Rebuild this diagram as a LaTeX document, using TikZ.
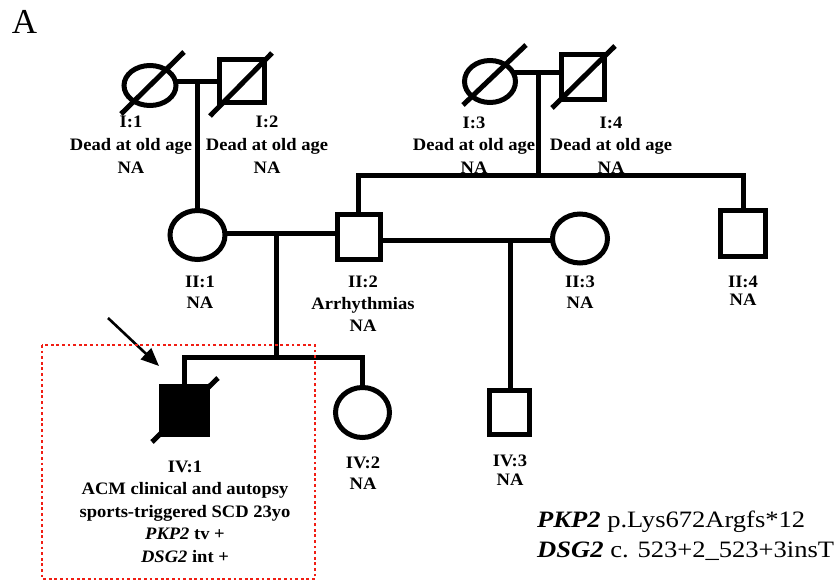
\documentclass[tikz,border=0pt]{standalone}
\usepackage{fontspec}
\setmainfont{Liberation Serif}
\usetikzlibrary{shapes.geometric,arrows.meta}
\pgfdeclarelayer{background}
\pgfsetlayers{background,main}
\tikzset{
  lw/.style={line width=5pt},
  female/.style={ellipse, draw, lw, fill=white, inner sep=0pt},
  male/.style={rectangle, draw, lw, fill=white, inner sep=0pt},
  conn/.style={lw, line join=miter},
  dead/.style={lw},
  lbl/.style={font=\bfseries\fontsize{17.5}{21}\selectfont, anchor=base, inner sep=0pt, xscale=1.06},
  var/.style={font=\fontsize{23.5}{28}\selectfont, anchor=base west, inner sep=0pt, xscale=1.13},
  redbox/.style={draw={rgb,255:red,240;green,30;blue,20}, line width=2.8pt, dash pattern=on 2.8pt off 2.8pt},
}
\begin{document}
\begin{tikzpicture}[x=1pt,y=-1pt]
\useasboundingbox (0,0) rectangle (838,583);

% panel letter
\node[font=\fontsize{35}{40}\selectfont, anchor=base, inner sep=0pt] (panelA) at (24.5,34) {A};

% individuals
\node[female, minimum width=52pt, minimum height=40pt] (I1) at (150,85.5) {};
\node[male, minimum width=45pt, minimum height=43pt] (I2) at (242,81) {};
\node[female, minimum width=51pt, minimum height=42pt] (I3) at (490,81.5) {};
\node[male, minimum width=43pt, minimum height=45pt] (I4) at (583,77) {};
\node[female, minimum width=55pt, minimum height=49pt] (II1) at (197.5,235) {};
\node[male, minimum width=43pt, minimum height=45pt] (II2) at (358.5,237) {};
\node[female, minimum width=55pt, minimum height=49pt] (II3) at (580,238.5) {};
\node[male, minimum width=45pt, minimum height=46pt] (II4) at (743,233.5) {};
\node[male, fill=black, minimum width=46pt, minimum height=48pt] (IV1) at (184.5,410.5) {};
\node[female, minimum width=54pt, minimum height=50pt] (IV2) at (362.5,412.5) {};
\node[male, minimum width=40pt, minimum height=44pt] (IV3) at (509.5,412.5) {};

% deceased slashes
\coordinate (d1a) at (121,114); \coordinate (d1b) at (184,52);
\coordinate (d2a) at (210,116); \coordinate (d2b) at (272,53);
\coordinate (d3a) at (463,105); \coordinate (d3b) at (526,45);
\coordinate (d4a) at (552,108); \coordinate (d4b) at (615,46);
\coordinate (d5a) at (152,442); \coordinate (d5b) at (218,378);
\draw[dead] (d1a) -- (d1b);
\draw[dead] (d2a) -- (d2b);
\draw[dead] (d3a) -- (d3b);
\draw[dead] (d4a) -- (d4b);
\draw[dead] (d5a) -- (d5b);

% connectors
\coordinate (m1) at (197.5,82);
\coordinate (m2) at (538,73);
\coordinate (s2) at (538,175);
\coordinate (m3) at (276,233);
\coordinate (s3) at (276,357);
\coordinate (m4) at (510,240);
\begin{pgfonlayer}{background}
\draw[conn] (I1.center |- m1) -- (I2.center |- m1);
\draw[conn] (m1) -- (m1 |- II1.north);
\draw[conn] (I3.center |- m2) -- (I4.center |- m2);
\draw[conn] (m2) -- (s2);
\draw[conn] (II2.north) -- (II2.north |- s2) -- (II4.north |- s2) -- (II4.north);
\draw[conn] (II1.center |- m3) -- (II2.center |- m3);
\draw[conn] (m3) -- (s3);
\draw[conn] (IV1.north) -- (IV1.north |- s3) -- (IV2.north |- s3) -- (IV2.north);
\draw[conn] (II2.center |- m4) -- (II3.center |- m4);
\draw[conn] (m4) -- (m4 |- IV3.north);
\end{pgfonlayer}

% proband arrow
\coordinate (atail) at (108,318);
\coordinate (atip) at (159,366);
\draw[line width=2.6pt, -{Triangle[length=18pt,width=15pt]}] (atail) -- (atip);

% red dotted frame
\draw[redbox] (42,345) rectangle (315,579);

% labels generation I
\node[lbl] (t11) at (131,128) {I:1};
\node[lbl] (t12) at (131,151) {Dead at old age};
\node[lbl] (t13) at (131,174) {NA};
\node[lbl] (t21) at (267,128) {I:2};
\node[lbl] (t22) at (267,151) {Dead at old age};
\node[lbl] (t23) at (267,174) {NA};
\node[lbl] (t31) at (474,128.5) {I:3};
\node[lbl] (t32) at (474,151) {Dead at old age};
\node[lbl] (t33) at (474,173) {NA};
\node[lbl] (t41) at (611,128.5) {I:4};
\node[lbl] (t42) at (611,151) {Dead at old age};
\node[lbl] (t43) at (611,173) {NA};

% labels generation II
\node[lbl] (u11) at (200,287.5) {II:1};
\node[lbl] (u12) at (200,308.5) {NA};
\node[lbl] (u21) at (363,287.5) {II:2};
\node[lbl] (u22) at (363,309) {Arrhythmias};
\node[lbl] (u23) at (363,331) {NA};
\node[lbl] (u31) at (580,287.5) {II:3};
\node[lbl] (u32) at (580,308.5) {NA};
\node[lbl] (u41) at (743,287) {II:4};
\node[lbl] (u42) at (743,305.5) {NA};

% labels generation IV
\node[lbl] (v11) at (185,472) {IV:1};
\node[lbl] (v12) at (185,494.5) {ACM clinical and autopsy};
\node[lbl] (v13) at (185,517) {sports-triggered SCD 23yo};
\node[lbl] (v14) at (185,539.5) {\textit{PKP2} tv +};
\node[lbl] (v15) at (185,562) {\textit{DSG2} int +};
\node[lbl] (v21) at (363,468.5) {IV:2};
\node[lbl] (v22) at (363,489.5) {NA};
\node[lbl] (v31) at (510,466) {IV:3};
\node[lbl] (v32) at (510,485.5) {NA};

% variants
\node[var] (var1) at (537,527) {\textbf{\textit{PKP2}} p.Lys672Argfs*12};
\node[var] (var2) at (537,557) {\textbf{\textit{DSG2}} c. 523+2\_523+3insT};
\end{tikzpicture}
\end{document}
